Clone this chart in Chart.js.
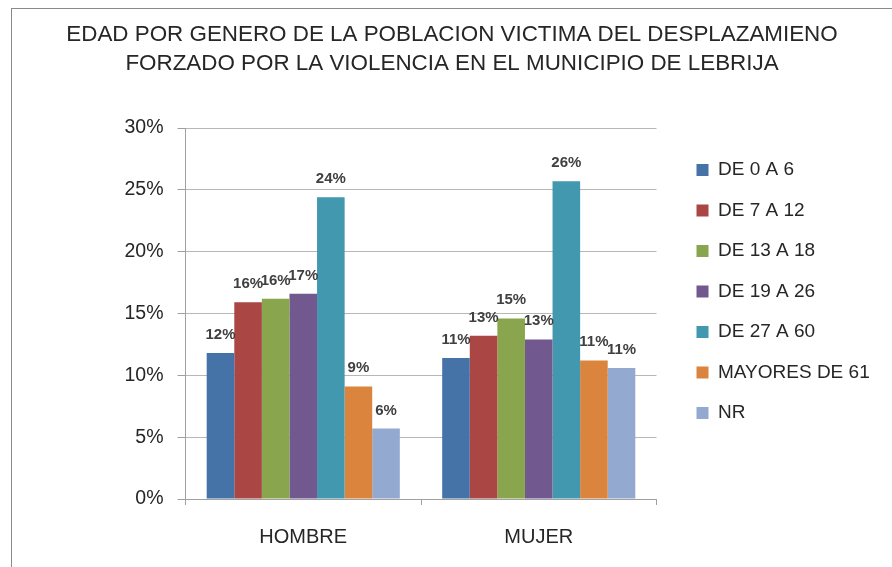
<!DOCTYPE html>
<html>
<head>
<meta charset="utf-8">
<script src="https://cdn.jsdelivr.net/npm/chart.js@4.4.1/dist/chart.umd.min.js"></script>
<style>
  html, body { margin: 0; padding: 0; background: #ffffff; }
  #wrap { position: relative; width: 892px; height: 567px; overflow: hidden; }
  #frame { position: absolute; left: 11px; top: 8px; width: 900px; height: 600px;
           border-left: 1px solid #8a8a8a; border-top: 1px solid #8a8a8a; box-sizing: border-box; }
  canvas { position: absolute; left: 0; top: 0; }
</style>
</head>
<body>
<div id="wrap">
  <div id="frame"></div>
  <canvas id="c" width="892" height="567"></canvas>
</div>
<script>
// ---- data ----
const titleLines = ['EDAD POR GENERO DE LA POBLACION VICTIMA DEL DESPLAZAMIENO',
                    'FORZADO POR LA VIOLENCIA EN EL MUNICIPIO DE LEBRIJA'];
const categories = ['HOMBRE', 'MUJER'];
const seriesNames = ['DE 0 A 6', 'DE 7 A 12', 'DE 13 A 18', 'DE 19 A 26', 'DE 27 A 60', 'MAYORES DE 61', 'NR'];
const de0a6     = [11.8, 11.4];
const de7a12    = [15.9, 13.2];
const de13a18   = [16.2, 14.6];
const de19a26   = [16.6, 12.9];
const de27a60   = [24.4, 25.7];
const mayores61 = [9.1, 11.2];
const nr        = [5.7, 10.6];
const yTickLabels = ['0%', '5%', '10%', '15%', '20%', '25%', '30%'];

const seriesValues = [de0a6, de7a12, de13a18, de19a26, de27a60, mayores61, nr];
const seriesColors = ['#4572A7', '#AA4643', '#89A54E', '#71588F', '#4198AF', '#DB843D', '#93A9CF'];

const FONT = "'Liberation Sans', Arial, sans-serif";
const gridGrey = '#b7b7b7';
const axisGrey = '#a0a0a0';

const valueLabels = {
  id: 'valueLabels',
  afterDatasetsDraw(chart) {
    const ctx = chart.ctx;
    ctx.save();
    ctx.font = "bold 15px " + FONT;
    ctx.fillStyle = '#404040';
    ctx.textAlign = 'center';
    ctx.textBaseline = 'alphabetic';
    chart.data.datasets.forEach((ds, i) => {
      const meta = chart.getDatasetMeta(i);
      meta.data.forEach((bar, j) => {
        ctx.fillText(Math.round(ds.data[j]) + '%', bar.x, bar.y - 14);
      });
    });
    ctx.restore();
  }
};

const legendShift = {
  id: 'legendShift',
  afterLayout(chart) {
    const lg = chart.legend;
    if (!lg) return;
    const dx = 18.5, dy = 11;
    lg.left += dx; lg.right += dx;
    lg.top += dy; lg.bottom += dy;
  }
};

new Chart(document.getElementById('c'), {
  type: 'bar',
  data: {
    labels: categories,
    datasets: seriesNames.map((name, i) => ({
      label: name,
      data: seriesValues[i],
      backgroundColor: seriesColors[i],
      borderWidth: 0,
      categoryPercentage: 0.82,
      barPercentage: 1.0
    }))
  },
  options: {
    responsive: false,
    animation: false,
    devicePixelRatio: 1,
    layout: { padding: { left: 43, right: 31, top: 0, bottom: 0 } },
    plugins: {
      title: {
        display: true,
        text: titleLines,
        color: '#262626',
        font: { family: FONT, size: 22.4, weight: 'normal', lineHeight: 29 / 22.4 },
        padding: { top: 20.5, bottom: 49.5 }
      },
      legend: {
        display: true,
        position: 'right',
        align: 'start',
        fullSize: false,
        labels: {
          color: '#262626',
          font: { family: FONT, size: 19 },
          boxWidth: 12,
          boxHeight: 12,
          padding: 21.5
        }
      },
      tooltip: { enabled: false }
    },
    scales: {
      x: {
        grid: { display: true, drawOnChartArea: false, drawTicks: true, tickLength: 6, color: axisGrey, offset: true },
        border: { display: true, color: axisGrey },
        ticks: { color: '#262626', font: { family: FONT, size: 20 }, padding: 20, maxRotation: 0 },
        afterFit(scale) { scale.height = 68; }
      },
      y: {
        min: 0,
        max: 30,
        ticks: {
          stepSize: 5,
          color: '#262626',
          font: { family: FONT, size: 19.5 },
          padding: 14,
          callback: (v, idx) => yTickLabels[idx]
        },
        grid: { color: gridGrey, tickLength: 8, drawTicks: true, tickColor: axisGrey },
        border: { display: true, color: axisGrey },
        afterFit(scale) { scale.width = 142.5; }
      }
    }
  },
  plugins: [valueLabels, legendShift]
});
</script>
</body>
</html>
